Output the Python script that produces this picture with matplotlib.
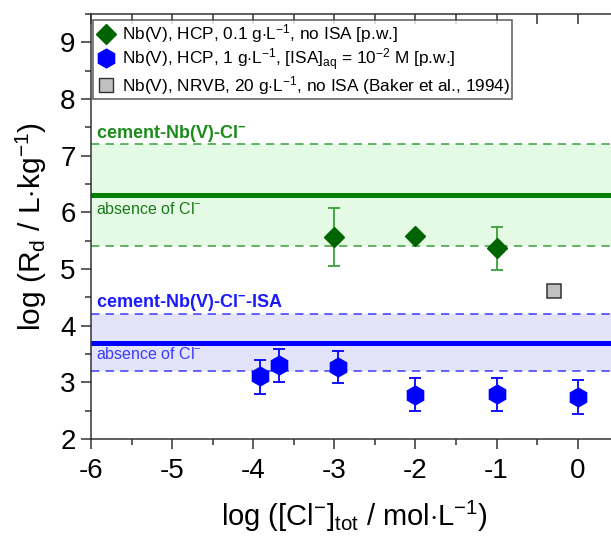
import matplotlib
matplotlib.use("Agg")
import matplotlib.pyplot as plt
from matplotlib.ticker import MultipleLocator, FuncFormatter
from matplotlib.lines import Line2D

plt.rcParams['font.family'] = ['Liberation Sans', 'DejaVu Sans']
plt.rcParams['mathtext.fontset'] = 'custom'
plt.rcParams['mathtext.rm'] = 'Liberation Sans'
plt.rcParams['mathtext.it'] = 'Liberation Sans:italic'
plt.rcParams['mathtext.bf'] = 'Liberation Sans:bold'
plt.rcParams['lines.scale_dashes'] = False

# Data
green_x = [-3.0, -2.0, -1.0]
green_y = [5.57, 5.58, 5.37]
green_err_lo = [0.51, 0.06, 0.38]
green_err_hi = [0.50, 0.06, 0.38]

blue_x = [-3.92, -3.68, -2.96, -2.0, -1.0, 0.0]
blue_y = [3.11, 3.30, 3.27, 2.78, 2.80, 2.75]
blue_err_lo = [0.31, 0.30, 0.29, 0.29, 0.30, 0.30]
blue_err_hi = [0.28, 0.29, 0.29, 0.29, 0.28, 0.30]

baker_x = [-0.29]
baker_y = [4.61]

green_band = (5.4, 6.3, 7.2)
blue_band = (3.2, 3.7, 4.2)

labels = [r'Nb(V), HCP, 0.1 g$\cdot$L$^{-1}$, no ISA [p.w.]',
          r'Nb(V), HCP, 1 g$\cdot$L$^{-1}$, [ISA]$_{\rm aq}$ = 10$^{-2}$ M [p.w.]',
          r'Nb(V), NRVB, 20 g$\cdot$L$^{-1}$, no ISA (Baker et al., 1994)']

W, H = 611, 536
fig = plt.figure(figsize=(W/100, H/100), dpi=100)
left, bottom_px, top_px = 91, 439, 14
ax_w = 6.5 * 81.1
ax = fig.add_axes([left/W, (H-bottom_px)/H, ax_w/W, (bottom_px-top_px)/H])
ax.set_xlim(-6, 0.5)
ax.set_ylim(2, 9.5)

# Bands
ax.axhspan(green_band[0], green_band[2], color='#e4fae4', zorder=0, lw=0)
ax.axhspan(blue_band[0], blue_band[2], color='#e3e3fa', zorder=0, lw=0)
for yv in (green_band[0], green_band[2]):
    ax.axhline(yv, color='#3a9e3a', lw=1.1, dashes=(6, 4.5), zorder=1)
ax.axhline(green_band[1], color='#008000', lw=3.6, zorder=1)
for yv in (blue_band[0], blue_band[2]):
    ax.axhline(yv, color='#3a3aff', lw=1.1, dashes=(6, 4.5), zorder=1)
ax.axhline(blue_band[1], color='#0000ff', lw=3.6, zorder=1)

# Text labels
ax.text(-5.94, 7.40, r'cement-Nb(V)-Cl$^{\mathbf{-}}$', color='#1a8c1a', fontsize=13,
        fontweight='bold', va='center', ha='left')
ax.text(-5.94, 6.05, r'absence of Cl$^{-}$', color='#1a7a1a', fontsize=11.5,
        va='center', ha='left')
ax.text(-5.94, 4.41, r'cement-Nb(V)-Cl$^{\mathbf{-}}$-ISA', color='#1a1aff', fontsize=13,
        fontweight='bold', va='center', ha='left')
ax.text(-5.94, 3.50, r'absence of Cl$^{-}$', color='#3a3aff', fontsize=11.5,
        va='center', ha='left')

# Data series
ax.errorbar(green_x, green_y, yerr=[green_err_lo, green_err_hi], fmt='none',
            ecolor='#3aa03a', elinewidth=1.3, capsize=4.3, capthick=1.3, zorder=3)
ax.plot(green_x, green_y, 'D', color='#006400', ms=10.5, mec='#006400', zorder=4)
ax.errorbar(blue_x, blue_y, yerr=[blue_err_lo, blue_err_hi], fmt='none',
            ecolor='#0000ff', elinewidth=1.3, capsize=4.3, capthick=1.3, zorder=3)
ax.plot(blue_x, blue_y, 'h', color='#0000ff', ms=13.5, mec='#0000ff', zorder=4)
ax.plot(baker_x, baker_y, 's', color='#c0c0c0', ms=10.5, mec='#333333', mew=1.1, zorder=4)

# Legend
handles = [Line2D([], [], marker='D', color='#006400', ls='none', ms=10.5),
           Line2D([], [], marker='h', color='#0000ff', ls='none', ms=13.5),
           Line2D([], [], marker='s', mfc='#c0c0c0', mec='#333333', ls='none', ms=10.5)]
leg = ax.legend(handles, labels, loc='upper left', bbox_to_anchor=(0.004, 0.986),
                fontsize=12.4, frameon=True, fancybox=False, edgecolor='#333333',
                borderpad=0.15, handletextpad=0.3, labelspacing=0.05, handlelength=1.2,
                borderaxespad=0)
leg.get_frame().set_linewidth(1.1)

# Axes styling
for s in ax.spines.values():
    s.set_linewidth(1.1)
    s.set_color('#333333')
ax.xaxis.set_major_locator(MultipleLocator(1))
ax.xaxis.set_minor_locator(MultipleLocator(0.5))
ax.yaxis.set_major_locator(MultipleLocator(1))
ax.yaxis.set_minor_locator(MultipleLocator(0.5))
ax.tick_params(which='both', direction='out', color='#333333', width=1.1,
               top=False, right=False, labelsize=20, pad=4)
ax.tick_params(axis='x', which='major', pad=7)
ax.tick_params(which='major', length=7)
ax.tick_params(which='minor', length=4)
ax.xaxis.set_major_formatter(FuncFormatter(lambda v, p: '%d' % v))
ax.yaxis.set_major_formatter(FuncFormatter(lambda v, p: '%d' % v))

# top and right inward ticks
secx = ax.secondary_xaxis('top')
secx.xaxis.set_major_locator(MultipleLocator(1))
secx.xaxis.set_minor_locator(MultipleLocator(0.5))
secx.tick_params(which='both', direction='in', length=7, width=1.1, color='#333333', labeltop=False)
secx.spines['top'].set_visible(False)
secy = ax.secondary_yaxis('right')
secy.yaxis.set_major_locator(MultipleLocator(1))
secy.yaxis.set_minor_locator(MultipleLocator(0.5))
secy.tick_params(which='both', direction='in', length=4, width=1.1, color='#333333', labelright=False)
secy.spines['right'].set_visible(False)

ax.set_xlabel(r'log ([Cl$^{-}$]$_{\rm tot}$ / mol$\cdot$L$^{-1}$)', fontsize=21, labelpad=10)
ax.set_ylabel(r'log (R$_{\rm d}$ / L$\cdot$kg$^{-1}$)', fontsize=21.5, labelpad=8)

fig.savefig('out.png', dpi=100)
